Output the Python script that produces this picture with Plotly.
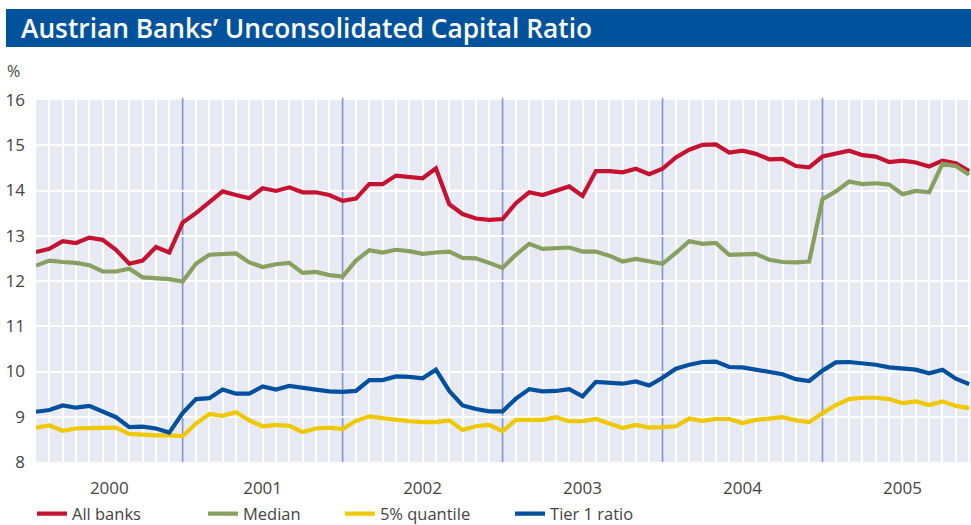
import plotly.graph_objects as go

# month index: 1 = first observation (Jan 2000) ... 71
months = list(range(1, 72))

all_banks = [12.64, 12.71, 12.88, 12.84, 12.96, 12.91, 12.69, 12.38, 12.45, 12.75, 12.63,
             13.29, 13.50, 13.74, 13.98, 13.90, 13.83, 14.05, 13.99, 14.07, 13.96, 13.96, 13.90, 13.77,
             13.82, 14.14, 14.14, 14.33, 14.30, 14.27, 14.49, 13.70, 13.48, 13.38, 13.35, 13.37,
             13.72, 13.96, 13.90, 13.99, 14.09, 13.88, 14.43, 14.43, 14.40, 14.48, 14.36, 14.48,
             14.73, 14.90, 15.01, 15.02, 14.84, 14.88, 14.81, 14.69, 14.70, 14.54, 14.51, 14.75,
             14.81, 14.88, 14.78, 14.75, 14.63, 14.66, 14.62, 14.53, 14.66, 14.60, 14.43]

median = [12.34, 12.45, 12.42, 12.40, 12.35, 12.21, 12.21, 12.27, 12.08, 12.07, 12.04,
          11.99, 12.38, 12.58, 12.60, 12.61, 12.41, 12.31, 12.37, 12.40, 12.18, 12.20, 12.13, 12.10,
          12.45, 12.68, 12.63, 12.69, 12.66, 12.60, 12.63, 12.65, 12.51, 12.50, 12.40, 12.29,
          12.58, 12.82, 12.71, 12.73, 12.74, 12.65, 12.65, 12.56, 12.43, 12.49, 12.43, 12.38,
          12.62, 12.88, 12.82, 12.84, 12.58, 12.59, 12.60, 12.47, 12.42, 12.41, 12.43, 13.81,
          13.98, 14.20, 14.14, 14.16, 14.13, 13.92, 13.99, 13.96, 14.59, 14.54, 14.35]

quantile_5 = [8.76, 8.81, 8.69, 8.74, 8.75, 8.75, 8.76, 8.62, 8.60, 8.59, 8.59,
              8.57, 8.85, 9.06, 9.02, 9.10, 8.92, 8.79, 8.82, 8.80, 8.66, 8.74, 8.76, 8.73,
              8.91, 9.01, 8.97, 8.93, 8.90, 8.88, 8.88, 8.92, 8.71, 8.79, 8.82, 8.68,
              8.93, 8.93, 8.93, 8.99, 8.90, 8.90, 8.95, 8.85, 8.75, 8.82, 8.76, 8.77,
              8.79, 8.96, 8.91, 8.95, 8.95, 8.86, 8.93, 8.96, 8.99, 8.92, 8.88, 9.08,
              9.26, 9.39, 9.42, 9.42, 9.39, 9.30, 9.34, 9.26, 9.34, 9.24, 9.19]

tier1 = [9.11, 9.15, 9.25, 9.20, 9.24, 9.12, 8.99, 8.77, 8.78, 8.74, 8.65,
         9.08, 9.39, 9.41, 9.60, 9.51, 9.51, 9.67, 9.60, 9.68, 9.63, 9.60, 9.56, 9.55,
         9.57, 9.81, 9.81, 9.89, 9.88, 9.85, 10.04, 9.57, 9.25, 9.17, 9.12, 9.12,
         9.40, 9.61, 9.56, 9.57, 9.61, 9.45, 9.77, 9.74, 9.73, 9.78, 9.69, 9.86,
         10.06, 10.15, 10.21, 10.22, 10.10, 10.09, 10.04, 9.99, 9.94, 9.83, 9.79, 10.02,
         10.20, 10.21, 10.18, 10.15, 10.09, 10.07, 10.04, 9.96, 10.04, 9.84, 9.72]

year_labels = ["2000", "2001", "2002", "2003", "2004", "2005"]
year_label_pos = [6.5, 18, 30, 42, 54, 66]
year_boundaries = [12, 24, 36, 48, 60]

series = [
    ("All banks", all_banks, "#C41230", "legend", -0.0043),
    ("Median", median, "#87A05F", "legend2", 0.1786),
    ("5% quantile", quantile_5, "#F0C800", "legend3", 0.325),
    ("Tier 1 ratio", tier1, "#00509E", "legend4", 0.507),
]

FONT = "Open Sans, Noto Sans, sans-serif"
TXT = "#444444"

# monthly white gridlines (year boundaries carry the blue lines instead)
grid_months = [m for m in months if m not in year_boundaries]

fig = go.Figure()
for name, vals, color, leg, _ in series:
    fig.add_trace(go.Scatter(x=months, y=vals, mode="lines", name=name,
                             line=dict(color=color, width=4.2), legend=leg))

legend_defs = {}
for name, vals, color, leg, lx in series:
    legend_defs[leg] = dict(x=lx, xanchor="left", y=-0.1436, yanchor="middle",
                            orientation="h", bgcolor="rgba(0,0,0,0)",
                            font=dict(family=FONT, size=16.5, color=TXT),
                            itemwidth=30)

for xb in year_boundaries:
    fig.add_shape(type="line", xref="x", yref="paper", x0=xb, x1=xb, y0=0, y1=1.006,
                  line=dict(color="#8396C9", width=1.6), layer="between")

# title bar
fig.add_shape(type="rect", xref="paper", yref="paper", x0=-0.0321, x1=1.05,
              y0=1.1464, y1=1.2514, fillcolor="#00529C", line=dict(width=0), layer="above")
fig.add_annotation(xref="paper", yref="paper", x=-0.018, y=1.199, xanchor="left",
                   yanchor="middle", showarrow=False,
                   text="Austrian Banks\u2019 Unconsolidated Capital Ratio",
                   font=dict(family=FONT, size=26.3, color="white", weight=600))
fig.add_annotation(xref="paper", yref="paper", x=-0.033, y=1.08, xanchor="left",
                   yanchor="middle", showarrow=False, text="%",
                   font=dict(family=FONT, size=16, color=TXT))

fig.update_layout(
    width=971, height=525,
    margin=dict(l=36, r=0, t=100, b=63, autoexpand=False),
    paper_bgcolor="white",
    plot_bgcolor="#E7E9F3",
    showlegend=True,
    xaxis=dict(range=[1, 71.14], tickmode="array", tickvals=grid_months,
               showgrid=True, gridcolor="white",
               gridwidth=2, showticklabels=False, zeroline=False, showline=False, ticks=""),
    xaxis2=dict(range=[1, 71.14], overlaying="x", anchor="y", side="bottom",
                tickvals=year_label_pos, ticktext=year_labels, showgrid=False,
                zeroline=False, showline=False, ticks="", ticklabelstandoff=14,
                tickfont=dict(family=FONT, size=17, color=TXT)),
    yaxis=dict(range=[8, 16], dtick=1, showgrid=True, gridcolor="white", gridwidth=2,
               zeroline=False, showline=False, ticks="", ticklabelstandoff=10,
               tickfont=dict(family=FONT, size=17, color=TXT)),
    **legend_defs,
)

# invisible helper trace so that the year-label axis is drawn
fig.add_trace(go.Scatter(x=[year_label_pos[0]], y=[8], xaxis="x2", mode="markers",
                         marker=dict(opacity=0), showlegend=False, hoverinfo="skip"))

# remove the default page margin so the 971x525 figure fills the window exactly
fig.write_html("out.html", config={"displayModeBar": False},
               post_script="document.body.style.margin='0px';document.body.style.overflow='hidden';")
